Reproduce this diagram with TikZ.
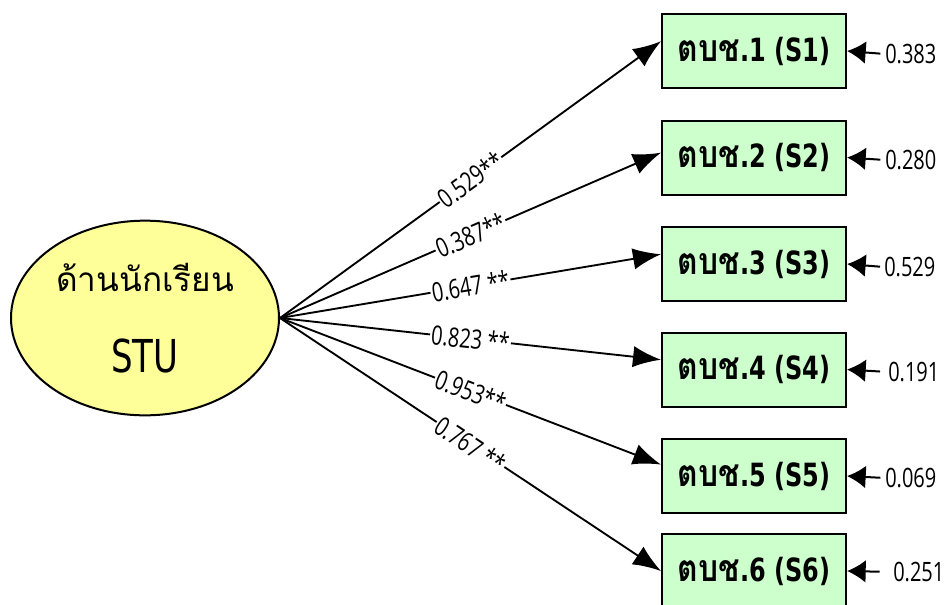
\documentclass[tikz,border=0pt]{standalone}
\usepackage{fontspec}
\setmainfont[Script=Thai]{Loma}
\newfontfamily\thaifont[Script=Thai,FakeStretch=0.85]{Loma}
\newfontfamily\latinfont[FakeStretch=0.75]{DejaVu Sans}
\newfontfamily\numfont[FakeStretch=0.75]{Open Sans}
\usepackage{xcolor}
\usetikzlibrary{shapes.geometric}
\usetikzlibrary{arrows.meta}
\definecolor{stuyellow}{HTML}{FFFF99}
\definecolor{boxgreen}{HTML}{CCFFCC}
\newcommand{\obstext}[1]{{\thaifont\fontsize{28pt}{28pt}\selectfont ตบช}.#1 (S#1)}

\begin{document}
\begin{tikzpicture}[x=0.75pt,y=-0.75pt,
	latent/.style={ellipse,draw,line width=1.5pt,fill=stuyellow,
		minimum width=201pt,minimum height=146pt,inner sep=0pt,align=center,
		font=\fontsize{25pt}{61pt}\selectfont},
	obsbox/.style={rectangle,draw,line width=1.5pt,fill=boxgreen,
		minimum width=138pt,minimum height=55.5pt,inner sep=0pt,
		font=\latinfont\bfseries\fontsize{24pt}{28pt}\selectfont},
	loadarrow/.style={line width=1.4pt,-{Latex[length=21pt,width=16pt]}},
	errarrow/.style={line width=1.5pt,-{Latex[length=14pt,width=17pt]}},
	coef/.style={sloped,pos=0.5,fill=white,inner sep=1pt,
		font=\numfont\fontsize{20pt}{20pt}\selectfont},
	errlab/.style={anchor=west,inner sep=0pt,
		font=\numfont\fontsize{20pt}{20pt}\selectfont}]
	\useasboundingbox (0,0) rectangle (946,604);
	% latent variable
	\node[latent] (stu) at (145,318)
		{ด้านนักเรียน\\{\latinfont\fontsize{34pt}{61pt}\selectfont STU}};
	% indicators
	\node[obsbox] (s1) at (754,51) {\obstext{1}};
	\node[obsbox] (s2) at (754,157.5) {\obstext{2}};
	\node[obsbox] (s3) at (754,264) {\obstext{3}};
	\node[obsbox] (s4) at (754,369.5) {\obstext{4}};
	\node[obsbox] (s5) at (754,476) {\obstext{5}};
	\node[obsbox] (s6) at (754,571) {\obstext{6}};
	% loadings
	\foreach \i/\a/\c in {1/174/0.529**,2/177/0.387**,3/174/0.647 **,
			4/174/0.823 **,5/173/0.953**,6/180/0.767 **}
		\draw[loadarrow] (stu.east) -- node[coef] {\c} (s\i.\a);
	% error terms
	\foreach \i/\x/\y/\v/\sh in {1/885/54/0.383/3.5,2/885/160/0.280/3.5,
			3/884/267/0.529/3,4/888/372/0.191/6,5/885/478/0.069/3.5,6/893/572/0.251/10}{
		\node[errlab] (e\i) at (\x,\y) {\v};
		\draw[errarrow,shorten <=\sh pt] (e\i.west) -- (s\i.east);
	}
\end{tikzpicture}
\end{document}
